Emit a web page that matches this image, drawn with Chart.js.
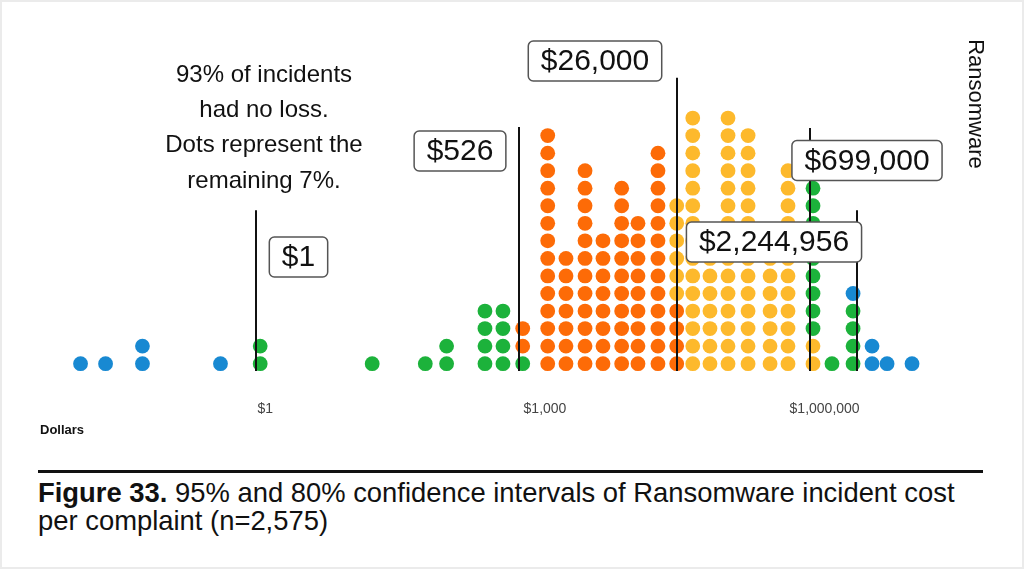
<!DOCTYPE html>
<html>
<head>
<meta charset="utf-8">
<title>Ransomware incident cost</title>
<script src="https://cdn.jsdelivr.net/npm/chart.js@4.4.1/dist/chart.umd.min.js"></script>
<style>
    html, body { margin: 0; padding: 0; background: #fff; }
    body { width: 1024px; height: 569px; position: relative; overflow: hidden; font-family: "Liberation Sans", Arial, sans-serif; color: #111; }
    #wrap { position: absolute; left: 0; top: 0; width: 1024px; height: 450px; }
    #rule { position: absolute; left: 38px; top: 470px; width: 945px; height: 3px; background: #111; }
    #caption { position: absolute; left: 38px; top: 479px; font-size: 27.4px; line-height: 28px; white-space: nowrap; }
    #frame { position: absolute; left: 0; top: 0; width: 1024px; height: 569px; box-sizing: border-box; border: 2px solid #ebebeb; pointer-events: none; }
</style>
</head>
<body>
<div id="wrap"><canvas id="costChart"></canvas></div>
<div id="rule"></div>
<div id="caption"><b>Figure 33.</b> 95% and 80% confidence intervals of Ransomware incident cost<br>per complaint (n=2,575)</div>
<div id="frame"></div>
<script>
    // dollar value of each dot column (log scale)
    const binDollars = [0.0104, 0.0193, 0.048, 0.33, 0.88, 14, 52, 88, 227, 354,
        577, 1070, 1680, 2690, 4190, 6650, 9950, 16300, 25900, 38500,
        58900, 92000, 151000, 260000, 405000, 751000, 1200000, 2020000, 3230000, 4680000, 8670000];

    // dots per column, in rank order (bottom of a column first)
    const belowCI95 = [1, 1, 2, 1, 0, 0, 0, 0, 0, 0, 0, 0, 0, 0, 0, 0, 0, 0, 0, 0, 0, 0, 0, 0, 0, 0, 0, 0, 0, 0, 0];
    const lowCI95   = [0, 0, 0, 0, 2, 1, 1, 2, 4, 4, 1, 0, 0, 0, 0, 0, 0, 0, 0, 0, 0, 0, 0, 0, 0, 0, 0, 0, 0, 0, 0];
    const lowCI80   = [0, 0, 0, 0, 0, 0, 0, 0, 0, 0, 2, 14, 7, 12, 8, 11, 9, 13, 4, 0, 0, 0, 0, 0, 0, 0, 0, 0, 0, 0, 0];
    const highCI80  = [0, 0, 0, 0, 0, 0, 0, 0, 0, 0, 0, 0, 0, 0, 0, 0, 0, 0, 6, 15, 7, 15, 14, 7, 12, 2, 0, 0, 0, 0, 0];
    const highCI95  = [0, 0, 0, 0, 0, 0, 0, 0, 0, 0, 0, 0, 0, 0, 0, 0, 0, 0, 0, 0, 0, 0, 0, 0, 0, 9, 1, 4, 0, 0, 0];
    const aboveCI95 = [0, 0, 0, 0, 0, 0, 0, 0, 0, 0, 0, 0, 0, 0, 0, 0, 0, 0, 0, 0, 0, 0, 0, 0, 0, 0, 0, 1, 2, 1, 1];

    // interval bounds and median
    const markerValues = [0.79, 526, 26000, 699000, 2244956];
    const markerLabels = ['$1', '$526', '$26,000', '$699,000', '$2,244,956'];

    const tickDollars = [1, 1000, 1000000];
    const tickLabels = ['$1', '$1,000', '$1,000,000'];

    const noteLines = ['93% of incidents', 'had no loss.', 'Dots represent the', 'remaining 7%.'];

    const BLUE = '#1889d2';
    const GREEN = '#1cb23b';
    const ORANGE = '#fd6b07';
    const YELLOW = '#fdb92c';

    const groups = [
        { name: 'Below 95%', counts: belowCI95, color: BLUE },
        { name: '95% low', counts: lowCI95, color: GREEN },
        { name: '80% low', counts: lowCI80, color: ORANGE },
        { name: '80% high', counts: highCI80, color: YELLOW },
        { name: '95% high', counts: highCI95, color: GREEN },
        { name: 'Above 95%', counts: aboveCI95, color: BLUE }
    ];

    // stack the dots of each column
    const stackHeight = binDollars.map(() => 0);
    const datasets = groups.map(g => {
        const pts = [];
        g.counts.forEach((n, i) => {
            for (let k = 0; k < n; k++) {
                pts.push({ x: binDollars[i], y: stackHeight[i] });
                stackHeight[i]++;
            }
        });
        return {
            label: g.name,
            data: pts,
            backgroundColor: g.color,
            borderWidth: 0,
            pointRadius: 7.4,
            pointHoverRadius: 7.4
        };
    });

    // where the line tops sit (in dot rows) and where the boxes go
    const markerTopRows = [8.74, 13.49, 16.3, 13.43, 8.74];
    const boxCenters = [[298.5, 257], [460, 151], [595, 61], [867, 160.5], [774, 242]];

    const markersPlugin = {
        id: 'markers',
        afterDatasetsDraw(chart) {
            const { ctx, scales: { x, y } } = chart;
            ctx.save();

            ctx.strokeStyle = '#111';
            ctx.lineWidth = 2;
            markerValues.forEach((v, i) => {
                const px = Math.round(x.getPixelForValue(v));
                ctx.beginPath();
                ctx.moveTo(px, y.getPixelForValue(markerTopRows[i]));
                ctx.lineTo(px, y.getPixelForValue(-0.42));
                ctx.stroke();
            });

            ctx.font = '30px "Liberation Sans", Arial, sans-serif';
            ctx.textAlign = 'center';
            ctx.textBaseline = 'middle';
            markerLabels.forEach((txt, i) => {
                const [cx, cy] = boxCenters[i];
                const w = ctx.measureText(txt).width + 25;
                const h = 40;
                ctx.beginPath();
                ctx.roundRect(cx - w / 2, cy - h / 2, w, h, 5);
                ctx.fillStyle = '#fff';
                ctx.fill();
                ctx.strokeStyle = '#555';
                ctx.lineWidth = 1.5;
                ctx.stroke();
                ctx.fillStyle = '#111';
                ctx.fillText(txt, cx, cy + 1);
            });

            ctx.font = '24px "Liberation Sans", Arial, sans-serif';
            noteLines.forEach((line, i) => {
                ctx.fillText(line, 264, 75 + i * 35.3);
            });

            ctx.translate(975, 104);
            ctx.rotate(Math.PI / 2);
            ctx.font = '22px "Liberation Sans", Arial, sans-serif';
            ctx.fillText('Ransomware', 0, 0);

            ctx.restore();
        }
    };

    Chart.defaults.font.family = '"Liberation Sans", Arial, sans-serif';

    new Chart(document.getElementById('costChart'), {
        type: 'scatter',
        data: { datasets },
        options: {
            responsive: true,
            maintainAspectRatio: false,
            animation: false,
            layout: { padding: { left: 40, right: 39, top: 100.5, bottom: 12.2 } },
            plugins: {
                legend: { display: false },
                tooltip: { enabled: false }
            },
            scales: {
                x: {
                    type: 'logarithmic',
                    min: 0.00382,
                    max: 5.26e7,
                    grid: { display: false, drawTicks: false },
                    border: { display: false },
                    afterBuildTicks: scale => {
                        scale.ticks = tickDollars.map(v => ({ value: v }));
                    },
                    ticks: {
                        autoSkip: false,
                        maxRotation: 0,
                        padding: 19.6,
                        color: '#444',
                        font: { size: 14 },
                        callback: value => tickLabels[tickDollars.indexOf(value)]
                    },
                    title: {
                        display: true,
                        text: 'Dollars',
                        align: 'start',
                        color: '#111',
                        font: { size: 13, weight: 'bold' },
                        padding: { top: -15, bottom: 0 }
                    }
                },
                y: {
                    display: false,
                    min: -1,
                    max: 15
                }
            }
        },
        plugins: [markersPlugin]
    });
</script>
</body>
</html>
